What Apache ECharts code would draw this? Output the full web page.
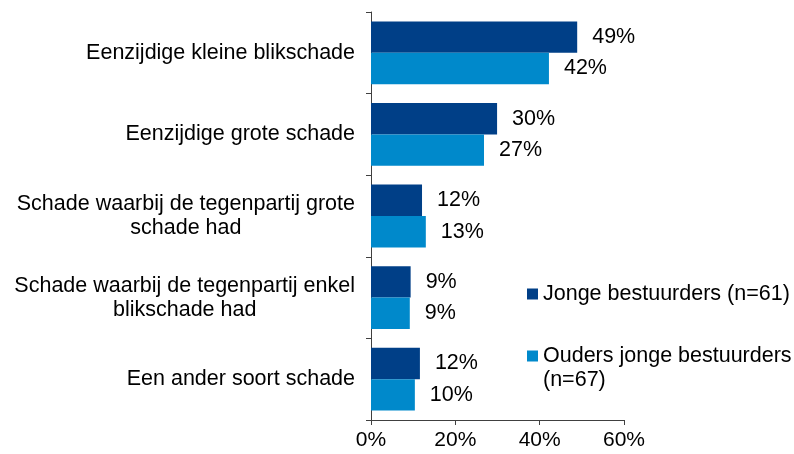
<!DOCTYPE html>
<html>
<head>
<meta charset="utf-8">
<script src="https://cdn.jsdelivr.net/npm/echarts@6/dist/echarts.min.js"></script>
<style>
html,body{margin:0;padding:0;background:#fff;}
#chart{width:794px;height:454px;}
</style>
</head>
<body>
<div id="chart"></div>
<script>
// categorieen (van boven naar beneden)
var categories = [
    'Eenzijdige kleine blikschade',
    'Eenzijdige grote schade',
    'Schade waarbij de tegenpartij grote\nschade had',
    'Schade waarbij de tegenpartij enkel\nblikschade had',
    'Een ander soort schade'
];
var seriesNames = ['Jonge bestuurders (n=61)', 'Ouders jonge bestuurders (n=67)'];
var jonge = [48.9, 29.9, 12.1, 9.4, 11.6];
var ouders = [42.2, 26.8, 13.0, 9.2, 10.4];
var xTicks = [0, 20, 40, 60];

var font = 'Liberation Sans, Arial, sans-serif';
var chart = echarts.init(document.getElementById('chart'));

function barSeries(name, data, color){
    return {
        name: name,
        type: 'bar',
        barGap: '0%',
        barCategoryGap: '23%',
        itemStyle: {color: color},
        label: {
            show: true,
            position: 'right',
            distance: 15,
            color: '#000',
            fontSize: 21.5,
            fontFamily: font,
            formatter: function(p){ return Math.round(p.value) + '%'; }
        },
        data: data
    };
}

chart.setOption({
    animation: false,
    grid: {left: 371, right: 170, top: 12, bottom: 34},
    legend: {
        orient: 'vertical',
        left: 522,
        top: 277,
        itemWidth: 11,
        itemHeight: 11,
        itemGap: 14,
        icon: 'rect',
        data: seriesNames,
        formatter: function(name){
            if (name === seriesNames[1]) return '\nOuders jonge bestuurders\n(n=67)';
            return name;
        },
        textStyle: {color: '#000', fontSize: 21.5, fontFamily: font, lineHeight: 24}
    },
    xAxis: {
        type: 'value',
        min: xTicks[0],
        max: xTicks[xTicks.length - 1],
        interval: 20,
        splitLine: {show: false},
        axisLine: {show: true, lineStyle: {color: '#404040', width: 1}},
        axisTick: {show: true, length: 5, lineStyle: {color: '#404040'}},
        axisLabel: {
            margin: 10,
            color: '#000',
            fontSize: 21,
            fontFamily: font,
            formatter: '{value}%'
        }
    },
    yAxis: {
        type: 'category',
        inverse: true,
        data: categories,
        axisLine: {show: true, lineStyle: {color: '#404040', width: 1}},
        axisTick: {show: true, length: 5, lineStyle: {color: '#404040'}},
        axisLabel: {
            margin: 16,
            color: '#000',
            fontSize: 21.5,
            fontFamily: font,
            lineHeight: 24,
            formatter: function(v){ return '{c|' + v + '}'; },
            rich: {c: {align: 'center', fontSize: 21.5, fontFamily: font, lineHeight: 24, color: '#000'}}
        }
    },
    series: [
        barSeries(seriesNames[0], jonge, '#003F87'),
        barSeries(seriesNames[1], ouders, '#0089CB')
    ]
});
</script>
</body>
</html>
